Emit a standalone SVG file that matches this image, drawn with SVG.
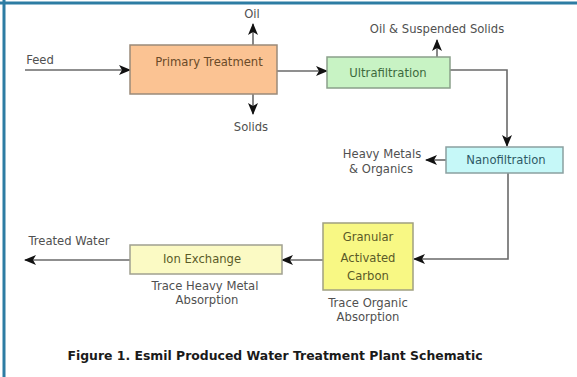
<svg xmlns="http://www.w3.org/2000/svg" width="577" height="377" viewBox="0 0 577 377">
<defs>
<marker id="ah" viewBox="0 0 12 10" refX="11" refY="5" markerWidth="12" markerHeight="10" markerUnits="userSpaceOnUse" orient="auto">
<path d="M0,0 L12,5 L0,10 L3,5 Z" fill="#111"/>
</marker>
<style>
.lbl{font-family:"DejaVu Sans","Liberation Sans",Arial,sans-serif;font-size:11.6px;fill:#505050;text-anchor:middle}
.box{stroke-width:1.5}
.con{fill:none;stroke:#6a6a6a;stroke-width:1.6}
.cap{font-family:"DejaVu Sans","Liberation Sans",Arial,sans-serif;font-size:12.5px;font-weight:bold;fill:#1a1a1a;text-anchor:middle}
</style>
</defs>
<rect x="0" y="0" width="577" height="377" fill="#ffffff"/>
<g id="frame">
<line x1="0" y1="3" x2="577" y2="3" stroke="#2d7ca3" stroke-width="3"/>
<line x1="4" y1="0" x2="4" y2="377" stroke="#2d7ca3" stroke-width="3"/>
</g>
<g id="connectors">
<line class="con" x1="25" y1="70" x2="130" y2="70" marker-end="url(#ah)"/>
<line class="con" x1="253" y1="45" x2="253" y2="24" marker-end="url(#ah)"/>
<line class="con" x1="253" y1="94" x2="253" y2="114" marker-end="url(#ah)"/>
<line class="con" x1="277" y1="71" x2="327" y2="71" marker-end="url(#ah)"/>
<line class="con" x1="437" y1="57" x2="437" y2="40" marker-end="url(#ah)"/>
<polyline class="con" points="450,70 507,70 507,146" marker-end="url(#ah)"/>
<line class="con" x1="446" y1="160" x2="426" y2="160" marker-end="url(#ah)"/>
<polyline class="con" points="508,172 508,259 414,259" marker-end="url(#ah)"/>
<line class="con" x1="323" y1="260" x2="282" y2="260" marker-end="url(#ah)"/>
<line class="con" x1="130" y1="260" x2="25" y2="260" marker-end="url(#ah)"/>
</g>
<g id="feed"><text class="lbl" x="40" y="64">Feed</text></g>
<g id="primary">
<rect class="box" x="130" y="45" width="147" height="49" fill="#fbc393" stroke="#9a8a7a"/>
<text class="lbl" x="209" y="66" style="fill:#6a4a28">Primary Treatment</text>
</g>
<g id="oil"><text class="lbl" x="252" y="18">Oil</text></g>
<g id="solids"><text class="lbl" x="251" y="131">Solids</text></g>
<g id="ultrafiltration">
<rect class="box" x="327" y="57" width="123" height="31" fill="#c8f3c4" stroke="#8aa08a"/>
<text class="lbl" x="388" y="77" style="fill:#3d6a3d">Ultrafiltration</text>
</g>
<g id="oilss"><text class="lbl" x="437" y="33">Oil &amp; Suspended Solids</text></g>
<g id="nanofiltration">
<rect class="box" x="446" y="147" width="117" height="26" fill="#c6f8f8" stroke="#8aa0a0"/>
<text class="lbl" x="506" y="164" style="fill:#2e5a66">Nanofiltration</text>
</g>
<g id="heavymetals">
<text class="lbl" x="382" y="158">Heavy Metals</text>
<text class="lbl" x="381" y="173">&amp; Organics</text>
</g>
<g id="gac">
<rect class="box" x="323" y="223" width="90" height="67" fill="#f8f884" stroke="#a0a080"/>
<text class="lbl" x="368" y="241" style="fill:#5a5a28">Granular</text>
<text class="lbl" x="368" y="262" style="fill:#5a5a28">Activated</text>
<text class="lbl" x="368" y="280" style="fill:#5a5a28">Carbon</text>
</g>
<g id="traceorganic">
<text class="lbl" x="368" y="307">Trace Organic</text>
<text class="lbl" x="368" y="321">Absorption</text>
</g>
<g id="ionexchange">
<rect class="box" x="130" y="245" width="152" height="29" fill="#fbfac4" stroke="#a0a090"/>
<text class="lbl" x="202" y="263" style="fill:#5a5a28">Ion Exchange</text>
</g>
<g id="traceheavy">
<text class="lbl" x="205" y="290">Trace Heavy Metal</text>
<text class="lbl" x="207" y="304">Absorption</text>
</g>
<g id="treated"><text class="lbl" x="69" y="245">Treated Water</text></g>
<g id="caption"><text class="cap" x="275" y="360" textLength="415" lengthAdjust="spacingAndGlyphs">Figure 1. Esmil Produced Water Treatment Plant Schematic</text></g>
</svg>
